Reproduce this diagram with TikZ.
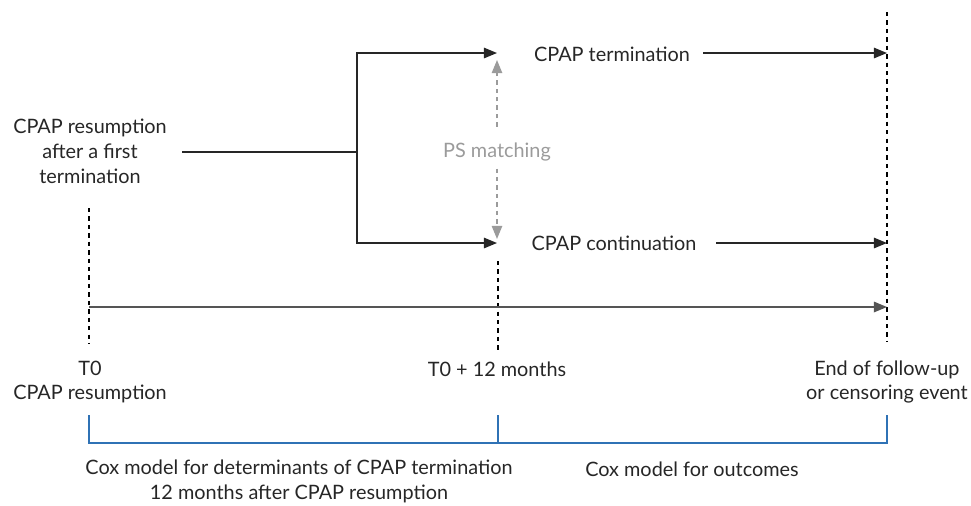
\documentclass[tikz,border=0pt]{standalone}
\usepackage{fontspec}
\setmainfont{Lato}
\usetikzlibrary{arrows.meta}
\tikzset{>={Triangle[length=7.5pt,width=6pt]}}
\definecolor{inkgray}{HTML}{262626}
\definecolor{timegray}{HTML}{555555}
\definecolor{psgray}{HTML}{9B9B9B}
\definecolor{coxblue}{HTML}{2F72B5}

\begin{document}
\begin{tikzpicture}[x=0.02cm,y=-0.02cm,
    txt/.style={font=\fontsize{11.3}{14.2}\selectfont, align=center, text=inkgray, inner sep=0pt},
    flow/.style={inkgray, line width=0.8pt},
    limit/.style={black, line width=0.7pt, dash pattern=on 2.5pt off 2.3pt},
    match/.style={psgray, line width=0.7pt, dash pattern=on 2.5pt off 2.3pt},
    cox/.style={coxblue, line width=0.6pt}]
            \useasboundingbox (0,0) rectangle (971,505);

            % texts
            \node[txt] (resume) at (90,151) {CPAP resumption\\after a first\\termination};
            \node[txt] (term) at (612,54) {CPAP termination};
            \node[txt] (cont) at (614,243) {CPAP continuation};
            \node[txt, text=psgray] (ps) at (497,152) {PS matching};
            \node[txt] (tzero) at (90,382) {T0\\CPAP resumption};
            \node[txt] (tyear) at (497,369) {T0 + 12 months};
            \node[txt] (tend) at (887,382) {End of follow-up\\or censoring event};
            \node[txt] (coxa) at (299,481) {Cox model for determinants of CPAP termination\\12 months after CPAP resumption};
            \node[txt] (coxb) at (692,469) {Cox model for outcomes};

            % points
            \coordinate (split) at (357,152);
            \coordinate (hitop) at (497,53);
            \coordinate (hibot) at (497,243);
            \coordinate (endtop) at (887,53);
            \coordinate (endbot) at (887,243);
            \coordinate (start) at (89,307);
            \coordinate (finish) at (887,307);

            % branches
            \draw[flow] ([xshift=8.5pt]resume.east |- split) -- (split);
            \draw[flow,->] (split) |- (hitop);
            \draw[flow,->] (split) |- (hibot);
            \draw[flow,->] ([xshift=7.4pt]term.east |- endtop) -- (endtop);
            \draw[flow,->] ([xshift=11pt]cont.east |- endbot) -- (endbot);

            % matching
            \draw[match,->] ([yshift=9pt]ps.north) -- ([yshift=-4pt]hitop);
            \draw[match,->] ([yshift=-4pt]ps.south) -- ([yshift=2.3pt]hibot);

            % time axis
            \draw[limit] (89,208) -- (89,343);
            \draw[limit] (498,261) -- (498,351);
            \draw[limit] (887,12) -- (887,342);
            \draw[timegray, line width=0.9pt, ->] (start) -- (finish);

            % analysis windows
            \draw[cox] (89,415) -- (89,443) -- (887,443) -- (887,415);
            \draw[cox] (498,415) -- (498,443);
\end{tikzpicture}
\end{document}
